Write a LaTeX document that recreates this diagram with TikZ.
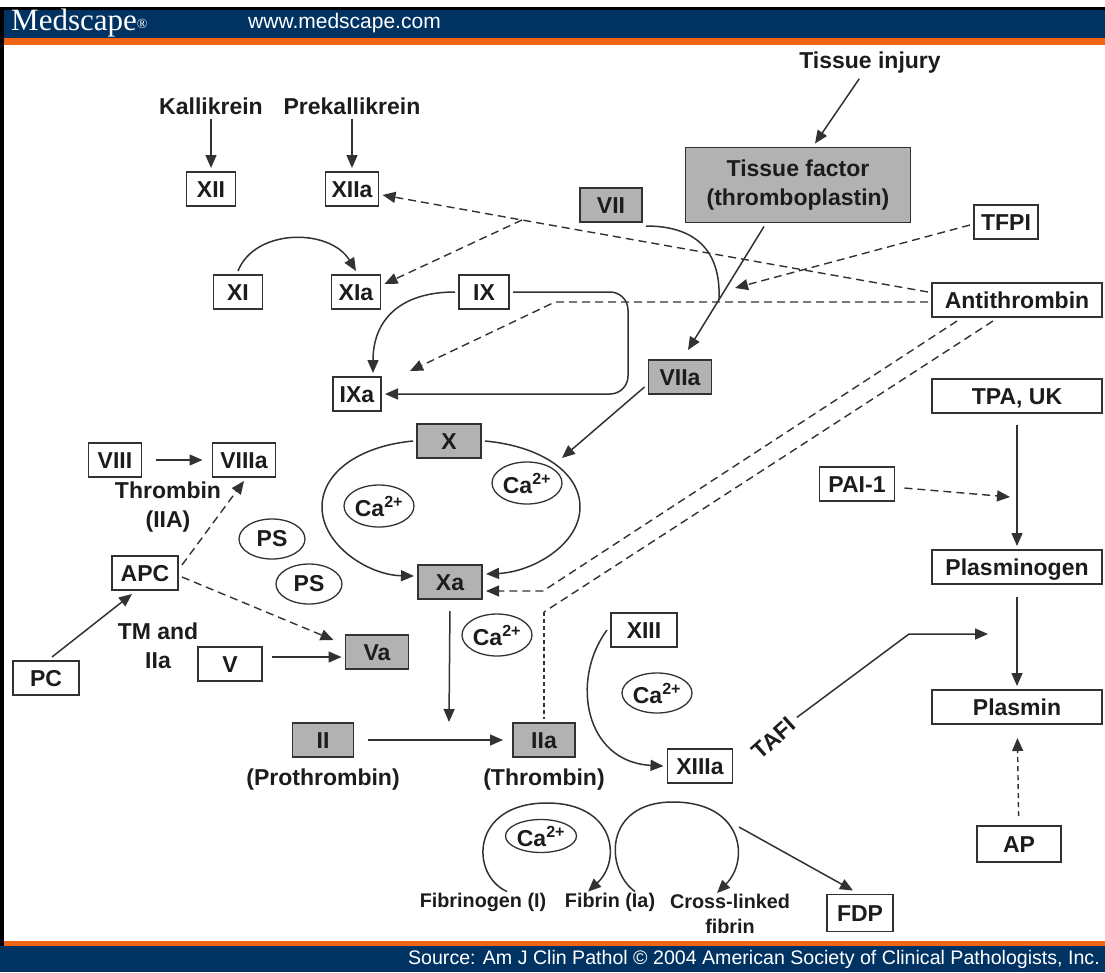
\documentclass[tikz,border=0pt]{standalone}
\usepackage{fontspec}
\setmainfont{Liberation Sans}
\newfontfamily\logofont{Liberation Serif}
\usetikzlibrary{arrows.meta,shapes.geometric,positioning}

\definecolor{medblue}{RGB}{0,50,98}
\definecolor{medorange}{RGB}{240,100,20}
\definecolor{boxgray}{RGB}{178,178,178}
\definecolor{linegray}{RGB}{50,50,50}
\definecolor{ink}{RGB}{28,28,28}

\newcommand\labfont{\fontsize{23}{28.5}\selectfont\bfseries}
\newcommand\smlfont{\fontsize{19.8}{25}\selectfont\bfseries}

\tikzset{
  boxbase/.style={draw=linegray, line width=1.8pt, fill=white, font=\labfont, text=ink,
    inner sep=2pt, minimum height=34, outer sep=4pt},
  fbox/.style={boxbase, text height=16.5pt, text depth=0pt},
  gbox/.style={fbox, fill=boxgray},
  lbl/.style={font=\labfont, text=ink, inner sep=2pt, outer sep=3pt},
  sml/.style={font=\smlfont, text=ink, inner sep=1pt},
  ion/.style={draw=linegray, ellipse, line width=1.3pt, minimum width=70, minimum height=42,
    inner sep=0pt, font=\labfont, text=ink},
  ln/.style={draw=linegray, line width=1.5pt},
  arr/.style={ln, -{Triangle[length=13pt,width=11pt]}},
  dsh/.style={ln, line width=1.4pt, dash pattern=on 8pt off 5pt},
  dsharr/.style={dsh, -{Triangle[length=13pt,width=11pt]}},
}

\begin{document}
\begin{tikzpicture}[x=1pt, y=-1pt]
  \useasboundingbox (0,0) rectangle (1105,972);

  \fill[black] (0,7) rectangle (1105,9.5);
  \fill[medblue] (0,9.5) rectangle (1105,38);
  \fill[medorange] (0,38) rectangle (1105,45);
  \fill[medorange] (0,941) rectangle (1105,946);
  \fill[medblue] (0,946) rectangle (1105,972);
  \fill[black] (0,7) rectangle (4,946);

  \node[anchor=west, text=white, inner sep=0pt, font=\logofont\fontsize{31}{31}\selectfont] (logo) at (11,23)
    {Medscape{\fontsize{14}{14}\selectfont\raisebox{2pt}{®}}};
  \node[anchor=west, text=white, inner sep=0pt, font=\fontsize{21}{21}\selectfont] (url) at (248,23) {www.medscape.com};
  \node[anchor=east, text=white, inner sep=0pt, font=\fontsize{19.6}{19.6}\selectfont] (src) at (1100,959)
    {Source: Am J Clin Pathol © 2004 American Society of Clinical Pathologists, Inc.};

  \node[lbl] (kal) at (211,106) {Kallikrein};
  \node[lbl] (prek) at (352,106) {Prekallikrein};
  \node[lbl] (inj) at (870,63) {Tissue injury};

  \node[fbox, minimum width=49] (XII) at (211,189) {XII};
  \node[fbox, minimum width=53] (XIIa) at (352,189) {XIIa};
  \node[fbox, minimum width=49] (XI) at (238,292) {XI};
  \node[fbox, minimum width=49] (XIa) at (356,292) {XIa};
  \node[fbox, minimum width=50] (IX) at (484,292) {IX};
  \node[fbox, minimum width=48] (IXa) at (357,394) {IXa};
  \node[gbox, minimum width=62] (VII) at (611,205) {VII};
  \node[boxbase, fill=boxgray, minimum width=225, minimum height=75, align=center] (TF) at (798,185)
    {Tissue factor\\(thromboplastin)};
  \node[fbox, minimum width=64] (TFPI) at (1006,222) {TFPI};
  \node[fbox, minimum width=170] (AT) at (1017,300) {Antithrombin};
  \node[gbox, minimum width=63] (VIIa) at (680,377) {VIIa};
  \node[fbox, minimum width=170] (TPA) at (1017,396) {TPA, UK};

  \node[gbox, minimum width=64] (X) at (449,441) {X};
  \node[gbox, minimum width=64] (Xa) at (450,582) {Xa};
  \node[ion] (ca1) at (379,506) {Ca\textsuperscript{2+}};
  \node[ion] (ca2) at (527,483) {Ca\textsuperscript{2+}};
  \node[ion] (ca3) at (497,635) {Ca\textsuperscript{2+}};
  \node[ion, minimum width=66, minimum height=40] (ps1) at (272,539) {PS};
  \node[ion, minimum width=66, minimum height=40] (ps2) at (309,584) {PS};

  \node[fbox, minimum width=53] (VIII) at (115,460) {VIII};
  \node[fbox, minimum width=63] (VIIIa) at (244,460) {VIIIa};
  \node[lbl, align=center] (thr) at (168,507) {Thrombin\\(IIA)};
  \node[fbox, minimum width=66] (APC) at (145,573) {APC};
  \node[fbox, minimum width=66] (PC) at (46,678) {PC};
  \node[lbl, align=center] (tm) at (158,646) {TM and\\IIa};
  \node[fbox, minimum width=64] (V) at (230,664) {V};
  \node[gbox, minimum width=63] (Va) at (377,652) {Va};

  \node[gbox, minimum width=61] (II) at (323,740) {II};
  \node[lbl, below=3pt of II] (pro) {(Prothrombin)};
  \node[gbox, minimum width=62] (IIa) at (544,740) {IIa};
  \node[lbl, below=3pt of IIa] (thn) {(Thrombin)};

  \node[fbox, minimum width=75] (PAI) at (857,484) {PAI-1};
  \node[fbox, minimum width=170] (PLG) at (1017,567) {Plasminogen};
  \node[fbox, minimum width=170] (PLM) at (1017,707) {Plasmin};
  \node[fbox, minimum width=84, minimum height=36] (AP) at (1019,844) {AP};

  \node[fbox, minimum width=66] (XIII) at (644,630) {XIII};
  \node[ion, minimum height=40] (ca4) at (657,693) {Ca\textsuperscript{2+}};
  \node[fbox, minimum width=65] (XIIIa) at (700,766) {XIIIa};
  \node[lbl, rotate=42, inner sep=0pt, outer sep=6pt] (tafi) at (774,738) {TAFI};

  \node[ion, minimum width=71, minimum height=33] (ca5) at (541,836) {Ca\textsuperscript{2+}};
  \node[sml] (fbg) at (483,902) {Fibrinogen (I)};
  \node[sml] (fbn) at (610,902) {Fibrin (Ia)};
  \node[sml, align=center] (clf) at (730,914) {Cross-linked\\fibrin};
  \node[fbox, minimum width=66, minimum height=37] (FDP) at (860,913) {FDP};

  \coordinate (br) at (522,220);
  \coordinate (atb) at (555,302);
  \coordinate (ixtip) at (410,371);
  \coordinate (tfpitip) at (735,288);
  \coordinate (xab) at (543,591);
  \coordinate (iiab) at (544,612);
  \coordinate (loopx) at (628,0);
  \coordinate (vijoin) at (719,300);
  \coordinate (viiatip) at (562,458);
  \coordinate (xatip) at (449,722);
  \coordinate (paitip) at (1010,497);
  \coordinate (tafib) at (909,634);
  \coordinate (tafitip) at (988,634);
  \coordinate (fdps) at (739,827);

  \draw[arr] (kal) -- (XII);
  \draw[arr] (prek) -- (XIIa);
  \draw[arr] (XI.north) .. controls (255,228) and (330,228) .. (XIa.north);
  \draw[arr] (IX.west) .. controls (400,292) and (373,320) .. ([xshift=16pt]IXa.north);
  \draw[arr, rounded corners=18pt] (IX.east) -- (IX.east -| loopx) |- (IXa.east);

  \draw[arr] (inj) -- ([xshift=17pt]TF.north);
  \draw[arr] ([xshift=-34pt]TF.south) -- ([xshift=8pt,yshift=6pt]VIIa.north);
  \draw[ln] (VII.south east) .. controls (700,226) and (721,255) .. (vijoin);
  \draw[arr] ([yshift=-10pt]VIIa.west) -- (viiatip);

  \draw[dsharr] ([yshift=8pt]AT.west) -- (br) -- ([yshift=-6pt]XIIa.east);
  \draw[dsharr] (br) -- ([yshift=8pt]XIa.east);
  \draw[dsharr] ([yshift=-2pt]AT.west) -- (atb) -- (ixtip);
  \draw[dsharr] ([yshift=-3pt]TFPI.west) -- (tfpitip);
  \draw[dsharr] ([xshift=-60pt]AT.south) -- (xab) -- ([yshift=-9pt]Xa.east);
  \draw[dsh] ([xshift=-24pt]AT.south) -- (iiab);
  \draw[dsh, dash pattern=on 4pt off 3pt] (iiab) -- (IIa.north);

  \draw[arr] (X.west) .. controls (360,446) and (322,472) .. (322,507)
    .. controls (322,545) and (368,575) .. ([yshift=6pt]Xa.west);
  \draw[arr] (X.east) .. controls (540,446) and (580,472) .. (580,507)
    .. controls (580,545) and (532,572) .. ([yshift=8pt]Xa.east);
  \draw[arr, shorten <=8pt] (Xa.south) -- (xatip);
  \draw[arr, shorten <=10pt, shorten >=6pt] (II) -- (IIa);

  \draw[arr, shorten <=10pt, shorten >=6pt] (VIII) -- (VIIIa);
  \draw[dsharr] ([yshift=8pt]APC.east) -- (VIIIa.south);
  \draw[dsharr] ([yshift=-4pt]APC.east) -- ([xshift=-8pt,yshift=-9pt]Va.north west);
  \draw[arr] ([xshift=6pt]PC.north) -- ([xshift=-13pt]APC.south);
  \draw[arr, shorten <=6pt] ([yshift=7pt]V.east) -- ([yshift=-5pt]Va.west);

  \draw[arr, shorten <=8pt] (TPA) -- (PLG);
  \draw[arr, shorten <=9pt] (PLG) -- (PLM);
  \draw[dsharr, dash pattern=on 5pt off 4pt, shorten <=6pt, shorten >=10pt] (AP) -- (PLM);
  \draw[dsharr, shorten <=6pt] (PAI) -- (paitip);
  \draw[arr] (tafi.east) -- (tafib) -- (tafitip);

  \draw[arr] (XIII.west) .. controls (570,680) and (585,762) .. (XIIIa.west);

  \draw[arr] ([xshift=24pt]fbg.north) .. controls (470,875) and (470,803) .. (547,803)
    .. controls (615,803) and (622,860) .. ([xshift=-22pt]fbn.north);
  \draw[arr] ([xshift=25pt]fbn.north) .. controls (605,870) and (603,802) .. (673,802)
    .. controls (743,802) and (750,860) .. ([xshift=-13pt]clf.north);
  \draw[arr] (fdps) -- ([xshift=-7pt]FDP.north);
\end{tikzpicture}
\end{document}
